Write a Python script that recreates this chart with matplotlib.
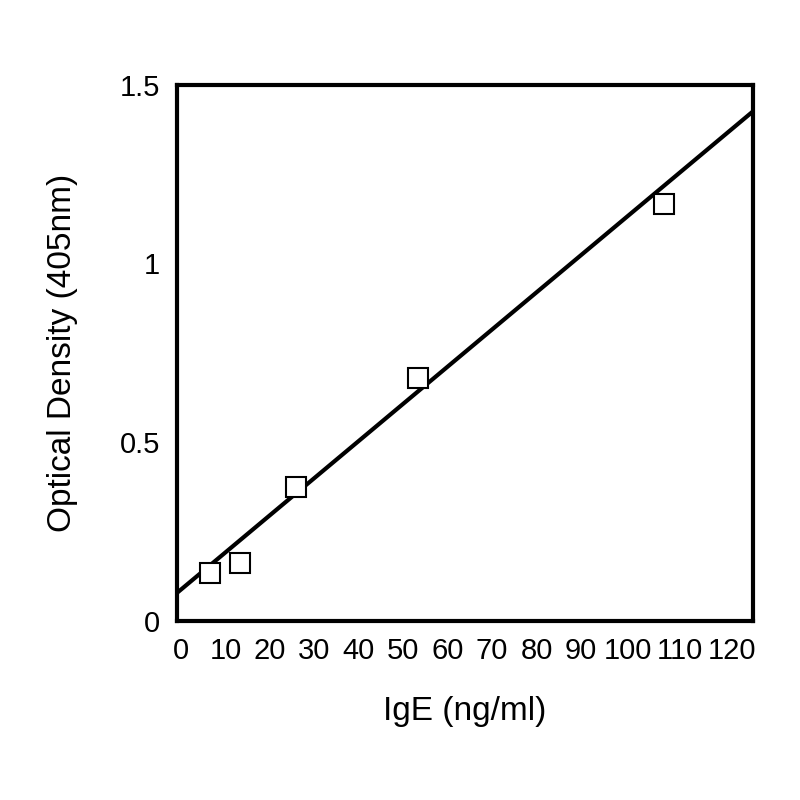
import matplotlib
matplotlib.use("Agg")
import matplotlib.pyplot as plt
import matplotlib.transforms as mtransforms
import numpy as np

# Data
ige = [6.4, 13.2, 25.9, 53.4, 108.6]
od = [0.134, 0.162, 0.374, 0.679, 1.167]
fit_intercept = 0.088
fit_slope = 0.01039
x_ticks = [0, 10, 20, 30, 40, 50, 60, 70, 80, 90, 100, 110, 120]
y_ticks = [0, 0.5, 1, 1.5]
y_tick_labels = ["0", "0.5", "1", "1.5"]

plt.rcParams['font.family'] = ['Liberation Sans', 'DejaVu Sans']

fig = plt.figure(figsize=(8, 8), dpi=100)
ax = fig.add_axes([0.221, 0.224, 0.72, 0.67])

xmin, xmax = -1.0, 128.7
xs = np.array([xmin, xmax])
ax.plot(xs, fit_intercept + fit_slope * xs, color='black', lw=3, zorder=2,
        solid_capstyle='butt')
ax.plot(ige, od, linestyle='none', marker='s', markersize=14.5,
        markerfacecolor='white', markeredgecolor='black', markeredgewidth=1.5,
        zorder=3)

ax.set_xlim(xmin, xmax)
ax.set_ylim(0, 1.5)
ax.set_xticks(x_ticks)
ax.set_xticklabels([str(t) for t in x_ticks])
ax.set_yticks(y_ticks)
ax.set_yticklabels(y_tick_labels)
ax.tick_params(length=0, labelsize=21, pad=12)

for s in ax.spines.values():
    s.set_linewidth(3)

# the reference spreads the last three labels slightly to keep them apart
label_shift_px = {100: 2.5, 110: 10, 120: 18}
for tick, val in zip(ax.xaxis.get_major_ticks(), x_ticks):
    dx = label_shift_px.get(val, 0)
    if dx:
        lab = tick.label1
        lab.set_transform(lab.get_transform() +
                          mtransforms.ScaledTranslation(dx / 100, 0, fig.dpi_scale_trans))

ax.set_xlabel("IgE (ng/ml)", fontsize=24, labelpad=22)
ax.set_ylabel("Optical Density (405nm)", fontsize=24, labelpad=30)

fig.savefig("out.png", dpi=100)
